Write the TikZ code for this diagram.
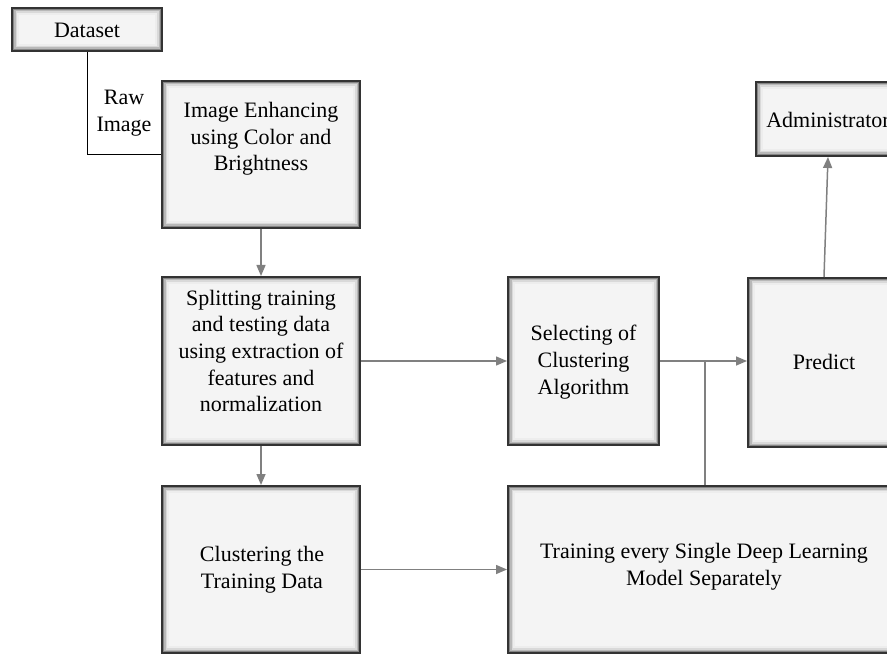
\documentclass[tikz,border=0pt]{standalone}
\usepackage{fontspec}
\setmainfont{Liberation Serif}
\newfontfamily\tnr{Liberation Serif}
\usetikzlibrary{arrows.meta}
\begin{document}
\begin{tikzpicture}[x=1pt,y=-1pt,
  box/.style={rectangle, inner sep=0pt, fill=black!4.5, draw=black!80, line width=2pt,
    path picture={
      \draw[black!7,line width=14pt] (path picture bounding box.south west) rectangle (path picture bounding box.north east);
      \draw[black!15,line width=10pt] (path picture bounding box.south west) rectangle (path picture bounding box.north east);
      \draw[black!28,line width=7pt] (path picture bounding box.south west) rectangle (path picture bounding box.north east);
      \draw[black!48,line width=4.5pt] (path picture bounding box.south west) rectangle (path picture bounding box.north east);
    }},
  txt/.style={align=center, inner sep=0pt, font=\tnr\fontsize{22}{26.7}\selectfont},
  arr/.style={draw=black!50, line width=1.5pt, -{Triangle[length=11pt,width=9pt]}},
  con/.style={draw=black!50, line width=1.5pt},
  raw/.style={draw=black, line width=0.9pt}]
\useasboundingbox (0,0) rectangle (887,655);
\clip (0,0) rectangle (887,655);
\fill[white] (0,0) rectangle (887,655);
% boxes
\node[box, minimum width=150pt, minimum height=43pt] (ds) at (87,29.5) {};
\node[box, minimum width=198pt, minimum height=147pt] (enh) at (261,154.5) {};
\node[box, minimum width=198pt, minimum height=168pt] (split) at (261,361) {};
\node[box, minimum width=198pt, minimum height=167pt] (clust) at (261,569.5) {};
\node[box, minimum width=151pt, minimum height=168pt] (sel) at (583.5,361) {};
\node[box, minimum width=152pt, minimum height=169pt] (pred) at (824,362.5) {};
\node[box, minimum width=144pt, minimum height=74pt] (adm) at (828,119) {};
\node[box, minimum width=392pt, minimum height=167pt] (train) at (704,569.5) {};
% texts
\node[txt] (ds-t) at (87,30) {Dataset};
\node[txt] (enh-t) at (261,139) {Image Enhancing\\using Color and\\Brightness};
\node[txt] (split-t) at (261,351) {Splitting training\\and testing data\\using extraction of\\features and\\normalization};
\node[txt] (clust-t) at (262,570) {Clustering the\\Training Data};
\node[txt] (sel-t) at (583.5,362) {Selecting of\\Clustering\\Algorithm};
\node[txt] (pred-t) at (824,362) {Predict};
\node[txt] (adm-t) at (828,120) {Administrator};
\node[txt] (train-t) at (704,567) {Training every Single Deep Learning\\Model Separately};
\node[txt] (raw-t) at (124,113) {Raw\\Image};
% connectors
\draw[raw] (ds.south) |- (enh.west);
\draw[arr] (enh.south) -- (split.north);
\draw[arr] (split.south) -- (clust.north);
\draw[arr] (split.east) -- (split.east -| sel.west);
\draw[arr] (clust.east) -- (clust.east -| train.west);
\draw[arr] (sel.east) -- (sel.east -| pred.west);
\coordinate (j) at (705,361);
\draw[con] (j) -- (j |- train.north);
\draw[arr] (pred.north) -- (adm.south);
\end{tikzpicture}
\end{document}
